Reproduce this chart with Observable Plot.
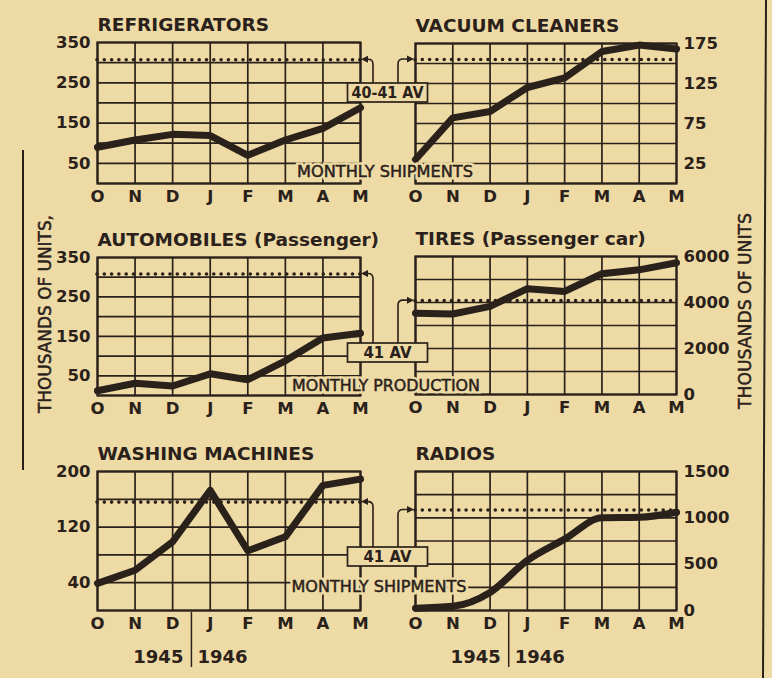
<!DOCTYPE html>
<html><head><meta charset="utf-8">
<script src="https://cdn.jsdelivr.net/npm/d3@7"></script>
<script src="https://cdn.jsdelivr.net/npm/@observablehq/plot@0.6"></script>
<style>
html,body{margin:0;padding:0;background:#eedaa5;}
#chart{position:relative;width:772px;height:678px;background:#eedaa5;overflow:hidden;}
#chart svg{position:absolute;left:0;top:0;}
</style></head><body><div id="chart"></div>
<script>
// ---- data ----
const months = ["O","N","D","J","F","M","A","M"];
const years = ["1945","1946"];
const refrigerators = [90, 108, 122, 119, 70, 108, 137, 188];
const vacuumCleaners = [30, 82, 90, 120, 132, 165, 173, 168];
const automobiles = [12, 31, 24, 55, 40, 88, 146, 158];
const tires = [3530, 3500, 3830, 4600, 4480, 5250, 5420, 5730];
const washingMachines = [39, 58, 99, 173, 86, 106, 180, 189];
const radios = [25, 45, 195, 540, 770, 1000, 1005, 1060];
const averages = {refrigerators: 307, vacuumCleaners: 155, automobiles: 308, tires: 4080, washingMachines: 156, radios: 1085};
const titles = ["REFRIGERATORS", "VACUUM CLEANERS", "AUTOMOBILES (Passenger)", "TIRES (Passenger car)", "WASHING MACHINES", "RADIOS"];
const avgLabels = ["40-41 AV", "41 AV", "41 AV"];
const captions = ["MONTHLY SHIPMENTS", "MONTHLY PRODUCTION", "MONTHLY SHIPMENTS"];
const unitsTitle = "THOUSANDS OF UNITS";

// ---- style ----
const INK = "#2a211b", BG = "#eedaa5", FONT = "'DejaVu Sans', sans-serif";
const W = 772, H = 678;
const chart = document.getElementById("chart");

function panel(cfg) {
  const rows = cfg.values.map((v, i) => ({i, v}));
  const marks = [
    Plot.gridY({ticks: d3.range(0, cfg.domain[1] + 1e-9, cfg.step), stroke: INK, strokeOpacity: 1, strokeWidth: 1.7}),
    Plot.gridX({ticks: d3.range(8), stroke: INK, strokeOpacity: 1, strokeWidth: 1.7}),
    Plot.frame({stroke: INK, strokeWidth: 2.2}),
    Plot.ruleY([cfg.avg], {stroke: INK, strokeWidth: 3.6, strokeDasharray: "0 7.3", strokeLinecap: "round"}),
    Plot.line(rows, {x: "i", y: "v", stroke: INK, strokeWidth: 7, curve: cfg.curve || "linear", strokeLinejoin: "round"}),
    Plot.axisY({anchor: cfg.side, ticks: cfg.labels, tickFormat: d => String(d), tickSize: 0, tickPadding: 7, label: null, fontSize: 16.5, fontWeight: "bold"}),
    Plot.axisX({ticks: d3.range(8), tickFormat: i => months[i], tickSize: 0, tickPadding: 7, label: null, fontSize: 16.5, fontWeight: "bold"}),
    Plot.text([cfg.title], {text: d => d, frameAnchor: "top-left", textAnchor: "start", lineAnchor: "bottom", dy: -12, fontSize: 18.5, fontWeight: "bold"})
  ];
  if (cfg.years) {
    const fh = cfg.bottom - cfg.top;
    marks.push(
      Plot.ruleX([2.5], {stroke: INK, strokeWidth: 1.5, insetTop: fh + 2, insetBottom: -57}),
      Plot.text([years[0]], {x: () => 2.5, text: d => d, frameAnchor: "bottom", textAnchor: "end", lineAnchor: "bottom", dx: -8, dy: 52, fontSize: 18, fontWeight: "bold"}),
      Plot.text([years[1]], {x: () => 2.5, text: d => d, frameAnchor: "bottom", textAnchor: "start", lineAnchor: "bottom", dx: 6, dy: 52, fontSize: 18, fontWeight: "bold"})
    );
  }
  const p = Plot.plot({
    width: W, height: H,
    marginLeft: cfg.left, marginRight: W - cfg.right, marginTop: cfg.top, marginBottom: H - cfg.bottom,
    x: {domain: [0, 7]},
    y: {domain: cfg.domain},
    style: {background: "transparent", color: INK, fontFamily: FONT, fontSize: "16px", fontWeight: "bold", overflow: "visible"},
    marks
  });
  chart.appendChild(p);
  return p;
}

const L = {left: 97, right: 360}, R = {left: 415, right: 676};
const pRef = panel({...L, top: 42, bottom: 183, title: titles[0], values: refrigerators, avg: averages.refrigerators, domain: [0, 350], step: 50, labels: [50, 150, 250, 350], side: "left"});
const pVac = panel({...R, top: 43, bottom: 183, title: titles[1], values: vacuumCleaners, avg: averages.vacuumCleaners, domain: [0, 175], step: 25, labels: [25, 75, 125, 175], side: "right"});
const pAut = panel({...L, top: 257, bottom: 395, title: titles[2], values: automobiles, avg: averages.automobiles, domain: [0, 350], step: 50, labels: [50, 150, 250, 350], side: "left"});
const pTir = panel({...R, top: 256, bottom: 394, title: titles[3], values: tires, avg: averages.tires, domain: [0, 6000], step: 1000, labels: [0, 2000, 4000, 6000], side: "right"});
const pWas = panel({...L, top: 471, bottom: 610, title: titles[4], values: washingMachines, avg: averages.washingMachines, domain: [0, 200], step: 40, labels: [40, 120, 200], side: "left", years: true});
const pRad = panel({...R, top: 471, bottom: 610, title: titles[5], values: radios, avg: averages.radios, domain: [0, 1500], step: 250, labels: [0, 500, 1000, 1500], side: "right", years: true, curve: "monotone-x"});

// ---- overlay annotations ----
const svg = d3.select(chart).append("svg").attr("width", W).attr("height", H)
  .attr("font-family", FONT).attr("fill", INK);

// column rules
svg.append("line").attr("x1", 23).attr("x2", 23).attr("y1", 150).attr("y2", 470).attr("stroke", INK).attr("stroke-width", 2);
svg.append("line").attr("x1", 766).attr("x2", 763).attr("y1", 0).attr("y2", H).attr("stroke", INK).attr("stroke-width", 2);

const rowsCfg = [
  {lp: pRef, rp: pVac, la: averages.refrigerators, ra: averages.vacuumCleaners, boxTop: 83, label: avgLabels[0], lw: 72, cap: captions[0], cx: 385, cy: 172, len: 176},
  {lp: pAut, rp: pTir, la: averages.automobiles, ra: averages.tires, boxTop: 343, label: avgLabels[1], lw: 48, cap: captions[1], cx: 386, cy: 385.5, len: 188},
  {lp: pWas, rp: pRad, la: averages.washingMachines, ra: averages.radios, boxTop: 547, label: avgLabels[2], lw: 48, cap: captions[2], cx: 379, cy: 586.5, len: 175}
];
for (const r of rowsCfg) {
  const xL = r.lp.scale("x").apply(7), xR = r.rp.scale("x").apply(0);
  const yL = r.lp.scale("y").apply(r.la), yR = r.rp.scale("y").apply(r.ra);
  const legL = xL + 13, legR = xR - 17;
  svg.append("path").attr("fill", "none").attr("stroke", INK).attr("stroke-width", 1.6)
    .attr("d", `M${legL},${r.boxTop} V${yL + 5} Q${legL},${yL} ${legL - 5},${yL} H${xL + 6}`);
  svg.append("path").attr("fill", "none").attr("stroke", INK).attr("stroke-width", 1.6)
    .attr("d", `M${legR},${r.boxTop} V${yR + 5} Q${legR},${yR} ${legR + 5},${yR} H${xR - 8}`);
  svg.append("path").attr("d", `M${xL + 1},${yL} L${xL + 8},${yL - 3.5} L${xL + 8},${yL + 3.5} Z`);
  svg.append("path").attr("d", `M${xR - 1},${yR} L${xR - 8},${yR - 3.5} L${xR - 8},${yR + 3.5} Z`);
  const bx = (xL + xR) / 2 - 40;
  svg.append("rect").attr("x", bx).attr("y", r.boxTop).attr("width", 80).attr("height", 19)
    .attr("fill", BG).attr("stroke", INK).attr("stroke-width", 1.7);
  svg.append("text").attr("x", bx + 40).attr("y", r.boxTop + 10).attr("text-anchor", "middle")
    .attr("dominant-baseline", "central").attr("font-size", 15).attr("font-weight", "bold")
    .attr("textLength", r.lw).attr("lengthAdjust", "spacingAndGlyphs").text(r.label);
  // halo (knocks out grid lines) then medium-weight text
  svg.append("text").attr("x", r.cx).attr("y", r.cy).attr("text-anchor", "middle")
    .attr("dominant-baseline", "central").attr("font-size", 15)
    .attr("fill", BG).attr("stroke", BG).attr("stroke-width", 5)
    .attr("textLength", r.len).attr("lengthAdjust", "spacingAndGlyphs").text(r.cap);
  svg.append("text").attr("x", r.cx).attr("y", r.cy).attr("text-anchor", "middle")
    .attr("dominant-baseline", "central").attr("font-size", 15)
    .attr("stroke", INK).attr("stroke-width", 0.45)
    .attr("textLength", r.len).attr("lengthAdjust", "spacingAndGlyphs").text(r.cap);
}

// vertical unit titles
svg.append("text").attr("transform", "translate(44,314) rotate(-90)").attr("text-anchor", "middle")
  .attr("dominant-baseline", "central").attr("font-size", 18)
  .attr("stroke", INK).attr("stroke-width", 0.5)
  .attr("textLength", 198).attr("lengthAdjust", "spacingAndGlyphs").text(unitsTitle + ",");
svg.append("text").attr("transform", "translate(744,311) rotate(-90)").attr("text-anchor", "middle")
  .attr("dominant-baseline", "central").attr("font-size", 18)
  .attr("stroke", INK).attr("stroke-width", 0.5)
  .attr("textLength", 196).attr("lengthAdjust", "spacingAndGlyphs").text(unitsTitle);
</script>
</body></html>
